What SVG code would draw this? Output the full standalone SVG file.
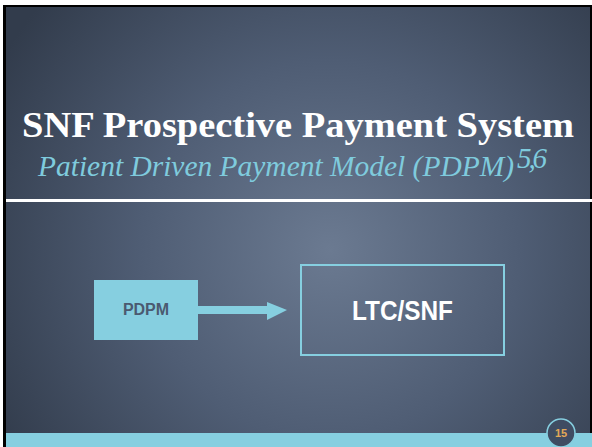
<svg xmlns="http://www.w3.org/2000/svg" width="592" height="447" viewBox="0 0 592 447">
<defs>
<radialGradient id="bg" cx="330" cy="250" r="380" gradientUnits="userSpaceOnUse">
<stop offset="0" stop-color="#6b7a91"/>
<stop offset="0.5" stop-color="#4f5d74"/>
<stop offset="1" stop-color="#323c4c"/>
</radialGradient>
<style>
.title{font-family:"Liberation Serif",serif;font-weight:bold;font-size:36px;fill:#ffffff}
.sub{font-family:"Liberation Serif",serif;font-style:italic;font-size:29px;fill:#7fcbdd}
.lbl{font-family:"Liberation Sans",Arial,sans-serif;font-weight:bold}
</style>
</defs>
<rect width="592" height="447" fill="#ffffff"/>
<rect x="3" y="5" width="589" height="442" fill="#000000"/>
<rect x="6" y="7" width="584" height="440" fill="url(#bg)"/>
<rect x="6" y="199" width="586" height="3" fill="#ffffff"/>
<rect x="6" y="433" width="586" height="14" fill="#86cfe0"/>
<text class="title" x="22" y="137" textLength="552" lengthAdjust="spacingAndGlyphs">SNF Prospective Payment System</text>
<text class="sub" x="38" y="176" textLength="476" lengthAdjust="spacingAndGlyphs">Patient Driven Payment Model (PDPM)</text>
<text class="sub" x="517" y="168" font-size="14" textLength="30" lengthAdjust="spacing">5,6</text>
<g id="pdpm">
<rect x="94" y="280" width="104" height="60" fill="#86cfe0"/>
<text class="lbl" x="146" y="315" text-anchor="middle" font-size="16" fill="#4b5a70">PDPM</text>
</g>
<g id="ltcsnf">
<rect x="301" y="265" width="203" height="90" fill="none" stroke="#86cfe0" stroke-width="2"/>
<text class="lbl" x="352" y="320" font-size="27" fill="#ffffff" textLength="101" lengthAdjust="spacingAndGlyphs">LTC/SNF</text>
</g>
<g id="connectors">
<polygon points="198,306 267,306 267,302 287,310 267,320 267,314 198,314" fill="#86cfe0"/>
</g>
<g id="page">
<circle cx="561" cy="433" r="14" fill="#3f4c62" stroke="#86cfe0" stroke-width="1.5"/>
<text class="lbl" x="561" y="437" text-anchor="middle" font-size="11" fill="#e3a857">15</text>
</g>
</svg>
